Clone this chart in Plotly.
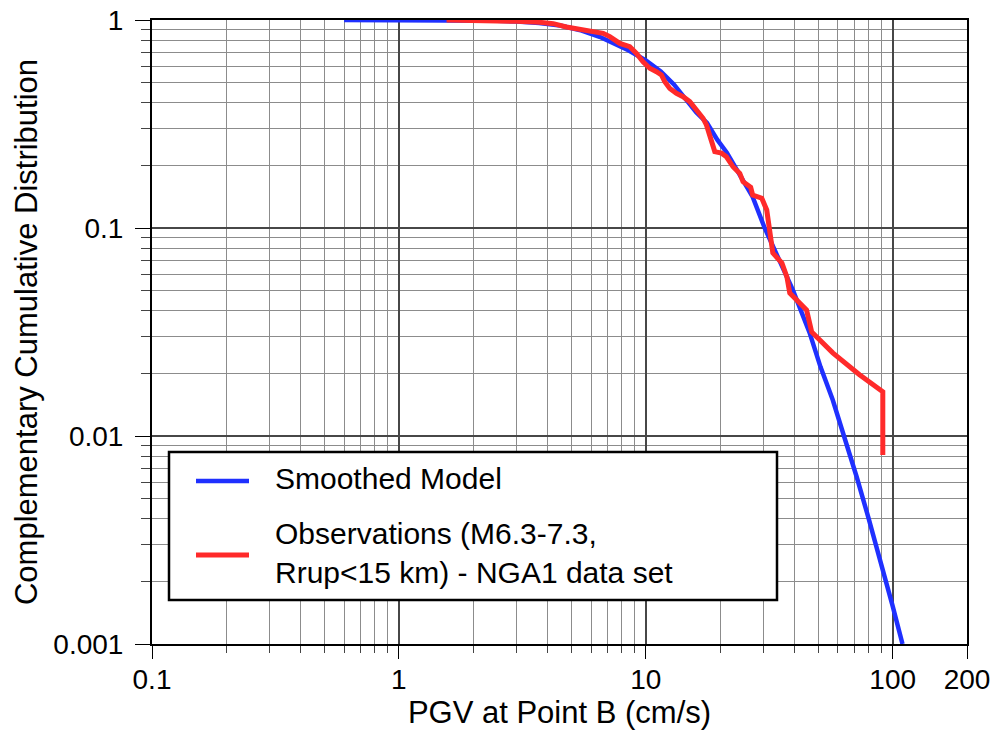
import plotly.graph_objects as go

# ---- data ----
model_pgv = [0.6, 1.0, 1.5, 2.0, 2.5, 3.0, 3.7, 4.5, 5.5, 6.5, 7.5, 8.5, 10, 11.5, 13, 14.6,
             16, 17.7, 19.5, 21.3, 24, 27.1, 30.3, 34, 39.4, 46.1, 51, 57.2, 64, 71.5,
             80, 90, 100, 109.6]
model_ccdf = [1.0, 1.0, 0.999, 0.997, 0.992, 0.983, 0.968, 0.94, 0.89, 0.83, 0.77, 0.715,
              0.64, 0.565, 0.49, 0.41, 0.36, 0.32, 0.265, 0.23, 0.18, 0.141, 0.10, 0.074,
              0.0504, 0.0313, 0.0215, 0.0149, 0.0098, 0.00635, 0.0040, 0.00243, 0.00152, 0.001]

obs_pgv = [1.56, 2.0, 2.5, 3.0, 3.72, 4.22, 4.77, 5.08, 5.93, 6.72, 7.15, 7.85, 8.61, 9.17,
           9.75, 10.38, 11.05, 11.57, 11.94, 12.51, 13.31, 14.16, 15.07, 16.04, 17.06, 17.61,
           18.45, 19.03, 20.25, 21.22, 22.56, 24.03, 24.77, 26.6, 27.1, 29.5, 30.9, 31.8,
           32.7, 35.6, 37.3, 38.3, 41.3, 44.8, 47.0, 57.2, 73.4, 91.2, 91.2]
obs_ccdf = [1.0, 0.997, 0.99, 0.985, 0.975, 0.96, 0.925, 0.912, 0.889, 0.863, 0.832, 0.772,
            0.744, 0.691, 0.630, 0.586, 0.564, 0.544, 0.505, 0.469, 0.444, 0.428, 0.405,
            0.369, 0.337, 0.313, 0.265, 0.233, 0.229, 0.220, 0.197, 0.183, 0.167, 0.157,
            0.144, 0.139, 0.122, 0.0905, 0.0759, 0.0679, 0.0581, 0.0487, 0.0441, 0.0403,
            0.0316, 0.0251, 0.0197, 0.0163, 0.0081]

x_tick_vals = [0.1, 1, 10, 100, 200]
x_tick_text = ["0.1", "1", "10", "100", "200"]
y_tick_vals = [0.001, 0.01, 0.1, 1]
y_tick_text = ["0.001", "0.01", "0.1", "1"]
x_minor = [m * d for d in (0.1, 1, 10) for m in range(2, 10)]
y_minor = [m * d for d in (0.001, 0.01, 0.1) for m in range(2, 10)]

model_name = "Smoothed Model"
obs_name_lines = ["Observations (M6.3-7.3,", "Rrup<15 km) - NGA1 data set"]

BLUE = "#1f30ff"
RED = "#ff2a2a"
FONT = "Liberation Sans, Arial, Helvetica, sans-serif"

fig = go.Figure()
fig.add_trace(go.Scatter(x=model_pgv, y=model_ccdf, mode="lines", name=model_name,
                         line=dict(color=BLUE, width=4.5), showlegend=False))
fig.add_trace(go.Scatter(x=obs_pgv, y=obs_ccdf, mode="lines",
                         name=" ".join(obs_name_lines),
                         line=dict(color=RED, width=5), showlegend=False))

axis_common = dict(
    type="log", showline=True, mirror=True, linecolor="black", linewidth=2,
    showgrid=True, gridcolor="#474747", gridwidth=1.6, zeroline=False,
    ticks="outside", tickcolor="black", tickwidth=1.3,
    tickfont=dict(family=FONT, size=28, color="black"),
)

fig.update_xaxes(
    **axis_common, range=[-1, 2.30103], tickmode="array",
    tickvals=x_tick_vals, ticktext=x_tick_text, ticklen=13, ticklabelstandoff=-4,
    minor=dict(tickmode="array", tickvals=x_minor, ticks="outside", ticklen=7,
               tickcolor="#444", showgrid=True, gridcolor="#8c8c8c", gridwidth=1),
    title=dict(text="PGV at Point B (cm/s)", font=dict(family=FONT, size=31, color="black"),
               standoff=2),
)
fig.update_yaxes(
    **axis_common, range=[-3, 0], tickmode="array",
    tickvals=y_tick_vals, ticktext=y_tick_text, ticklen=15, ticklabelstandoff=6,
    minor=dict(tickmode="array", tickvals=y_minor, ticks="outside", ticklen=9,
               tickcolor="#444", showgrid=True, gridcolor="#8c8c8c", gridwidth=1),
    title=dict(text="Complementary Cumulative Distribution",
               font=dict(family=FONT, size=31, color="black"), standoff=6),
)

# ---- legend box drawn in paper coordinates ----
W, H = 995, 733
ML, MR, MT, MB = 152, 28, 20, 89
PW, PH = W - ML - MR, H - MT - MB


def px(xp):
    return (xp - ML) / PW


def py(yp):
    return (H - MB - yp) / PH


fig.add_shape(type="rect", xref="paper", yref="paper",
              x0=px(169), x1=px(777), y0=py(600), y1=py(452),
              fillcolor="white", line=dict(color="black", width=2.5), layer="above")
fig.add_shape(type="line", xref="paper", yref="paper",
              x0=px(196), x1=px(249), y0=py(481), y1=py(481),
              line=dict(color=BLUE, width=4.5), layer="above")
fig.add_shape(type="line", xref="paper", yref="paper",
              x0=px(196), x1=px(249), y0=py(555), y1=py(555),
              line=dict(color=RED, width=5), layer="above")
legend_font = dict(family=FONT, size=30, color="black")
fig.add_annotation(xref="paper", yref="paper", x=px(273), y=py(478),
                   xanchor="left", yanchor="middle", text=model_name, showarrow=False,
                   font=legend_font)
fig.add_annotation(xref="paper", yref="paper", x=px(273), y=py(553),
                   xanchor="left", yanchor="middle", align="left",
                   text="<br>".join(obs_name_lines), showarrow=False,
                   font=legend_font)

fig.update_layout(
    width=W, height=H, margin=dict(l=ML, r=MR, t=MT, b=MB, autoexpand=False),
    paper_bgcolor="white", plot_bgcolor="white", showlegend=False,
    font=dict(family=FONT, color="black"),
)

fig.write_html("out.html")
